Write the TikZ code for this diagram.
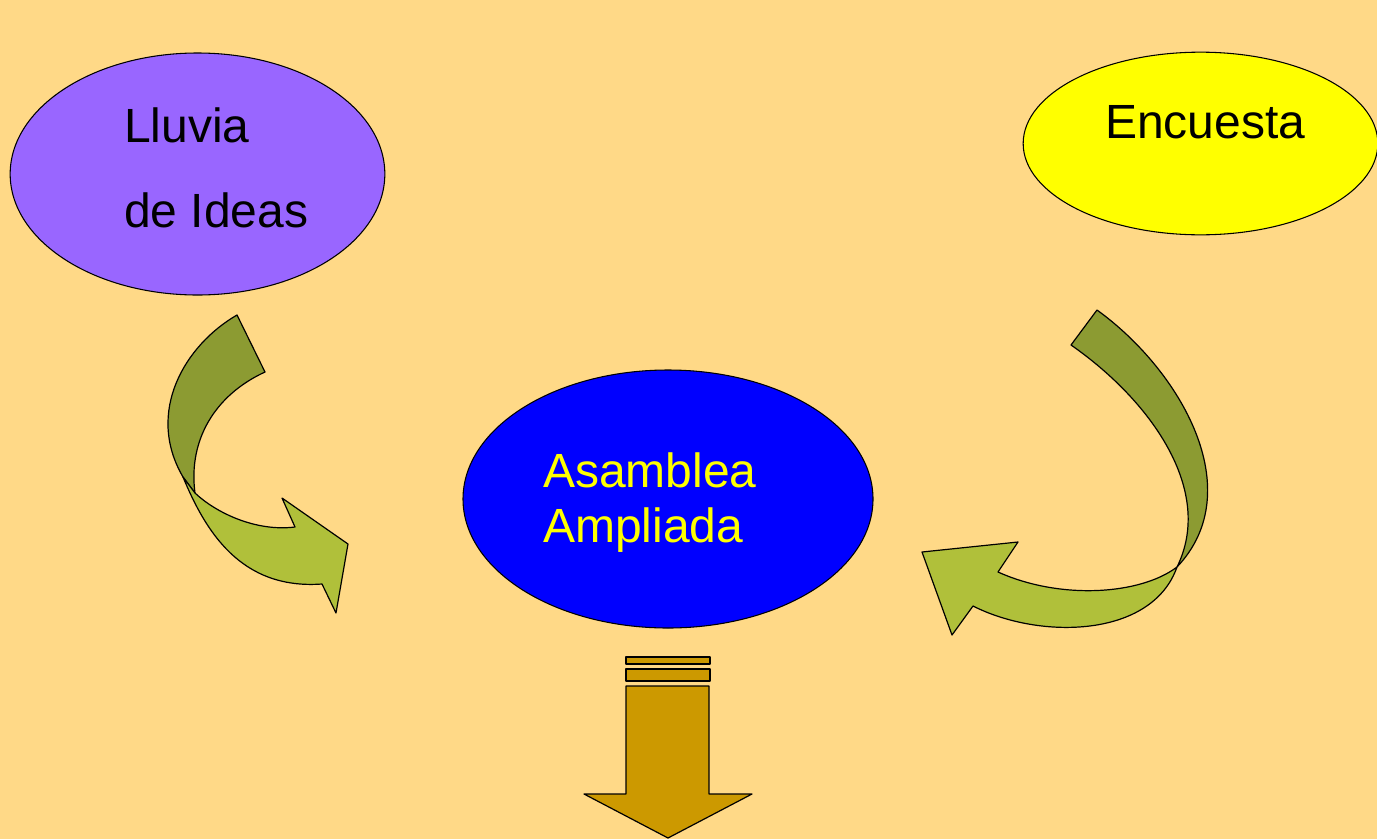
\documentclass[tikz,border=0pt]{standalone}
\usepackage{fontspec}
\setmainfont{Liberation Sans}
\usetikzlibrary{shapes.geometric}
\definecolor{bgc}{RGB}{255,217,135}
\definecolor{lilac}{RGB}{153,102,255}
\definecolor{yel}{RGB}{255,255,0}
\definecolor{blu}{RGB}{0,0,255}
\definecolor{dgreen}{RGB}{140,155,50}
\definecolor{lgreen}{RGB}{176,192,58}
\definecolor{brn}{RGB}{204,153,0}
\tikzset{
  bubble/.style={ellipse, draw=black, line width=0.8pt, inner sep=0pt},
  lbl/.style={anchor=base west, inner sep=0pt, font=\fontsize{36}{43}\selectfont},
  ribbon/.style={draw=black, line width=0.9pt, line join=round},
}
\begin{document}
\begin{tikzpicture}[x=0.75pt,y=-0.75pt]
\fill[bgc] (0,0) rectangle (1377,839);
\useasboundingbox (0,0) rectangle (1377,839);
% ellipses
\node[bubble, fill=lilac, minimum width=281pt, minimum height=181.5pt] (lluvia) at (197.5,174) {};
\node[bubble, fill=yel, minimum width=266pt, minimum height=137pt] (encuesta) at (1200.5,143.5) {};
\node[bubble, fill=blu, minimum width=307.5pt, minimum height=193.5pt] (asamblea) at (668,499) {};
% texts
\node[lbl] (t1) at (124,142) {Lluvia};
\node[lbl] (t2) at (124,227) {de Ideas};
\node[lbl] (t3) at (1105,138) {Encuesta};
\node[lbl, text=yel] (t4) at (543,487) {Asamblea};
\node[lbl, text=yel] (t5) at (543,542) {Ampliada};
% left curved arrow
\draw[ribbon, fill=dgreen] (237,315) -- (265,372)
  .. controls (215,395) and (188,440) .. (195,493)
  -- (183,477)
  .. controls (145,412) and (185,345) .. (237,315) -- cycle;
\draw[ribbon, fill=lgreen] (183,477)
  .. controls (205,530) and (240,590) .. (322,584)
  -- (336,613) -- (348,544) -- (282,498) -- (295,527)
  .. controls (255,532) and (215,512) .. (195,493) -- cycle;
% right curved arrow
\draw[ribbon, fill=dgreen] (1097,310)
  .. controls (1180,370) and (1250,490) .. (1177,567)
  .. controls (1215,490) and (1150,400) .. (1071,345) -- cycle;
\draw[ribbon, fill=lgreen] (1177,567)
  .. controls (1140,595) and (1060,600) .. (998,572)
  -- (1018,542) -- (922,552) -- (952,635) -- (973,606)
  .. controls (1040,640) and (1152,638) .. (1177,567) -- cycle;
% bottom arrow
\draw[ribbon, fill=brn] (626,657) rectangle (710,664);
\draw[ribbon, fill=brn] (626,669) rectangle (710,681);
\draw[ribbon, fill=brn] (626,686) -- (709,686) -- (709,794) -- (752,794) -- (668,838) -- (584,794) -- (626,794) -- cycle;
\end{tikzpicture}
\end{document}
